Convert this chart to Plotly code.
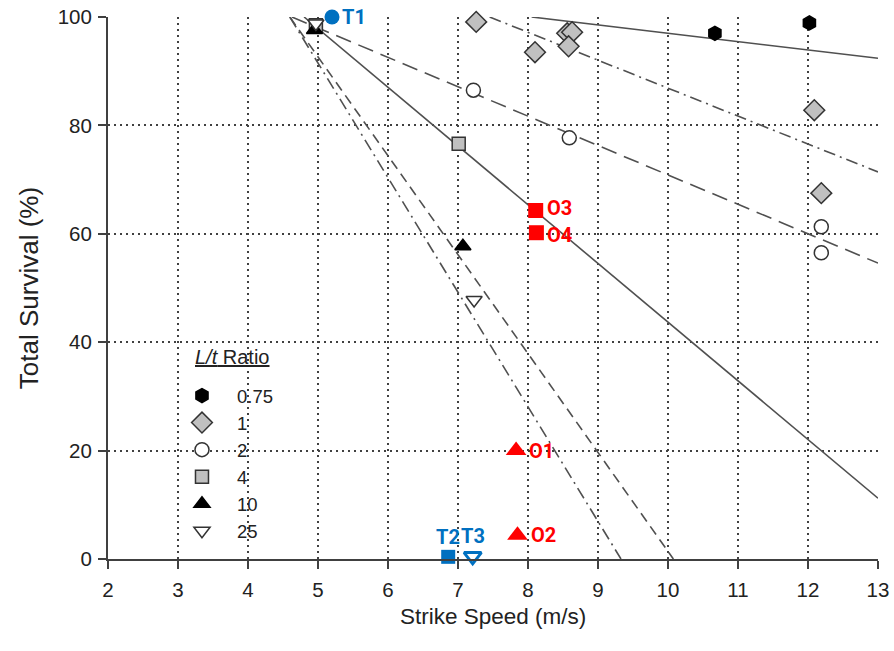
import plotly.graph_objects as go

# Survival vs. strike speed, grouped by L/t ratio
ratio_labels = ["0.75", "1", "2", "4", "10", "25"]

speed_075 = [10.67, 12.02]
surv_075 = [97.0, 98.9]

speed_1 = [7.26, 7.39, 8.10, 8.56, 8.63, 8.58, 12.09, 12.19]
surv_1 = [99.1, 100.3, 93.5, 97.0, 97.2, 94.6, 82.8, 67.5]

speed_2 = [7.22, 8.59, 12.19, 12.19]
surv_2 = [86.5, 77.7, 61.3, 56.5]

speed_4 = [4.97, 7.01]
surv_4 = [98.5, 76.6]

speed_10 = [4.95, 7.07]
surv_10 = [97.6, 57.7]

speed_25 = [4.97, 7.23]
surv_25 = [98.8, 47.8]

# Linear fits: survival = intercept + slope * speed
fit_intercept = [112.4, 138.4, 125.1, 152.0, 183.9, 197.2]
fit_slope = [-1.54, -5.153, -5.424, -10.83, -18.25, -21.14]
fit_dash = ["solid", "12px,5px,2px,5px", "16px,8px", "solid", "10px,6px", "12px,5px,2px,5px"]

# Highlighted test / observation points
t_names = ["T1", "T2", "T3"]
t_speed = [5.20, 6.86, 7.21]
t_surv = [100.0, 0.4, 0.5]

o_names = ["O1", "O2", "O3", "O4"]
o_speed = [7.83, 7.85, 8.11, 8.12]
o_surv = [20.0, 4.4, 64.3, 60.2]

X_MIN, X_MAX = 2, 13
Y_MIN, Y_MAX = 0, 100

LINE_CLR = "#505050"
EDGE = "#333333"
GRAY_FILL = "#c0c0c0"
BLUE = "#0070C0"
RED = "#FF0000"
FONT = "Arial, Liberation Sans, sans-serif"
LABEL_FONT = "Roboto, sans-serif"

fig = go.Figure()

# fitted lines, clipped to the 0-100 % band and the speed range
for a, b, d in zip(fit_intercept, fit_slope, fit_dash):
    xs = (Y_MAX - a) / b
    xe = min(X_MAX, (Y_MIN - a) / b)
    fig.add_trace(go.Scatter(
        x=[xs, xe], y=[a + b * xs, a + b * xe], mode="lines",
        line=dict(color=LINE_CLR, width=1.6, dash=d),
        showlegend=False, hoverinfo="skip"))

series = [
    (speed_075, surv_075, "hexagon", "black", "black", 14),
    (speed_1, surv_1, "diamond", GRAY_FILL, EDGE, 16),
    (speed_2, surv_2, "circle", "white", EDGE, 14),
    (speed_4, surv_4, "square", GRAY_FILL, EDGE, 13),
    (speed_10, surv_10, "triangle-up", "black", "black", 14),
    (speed_25, surv_25, "triangle-down", "white", EDGE, 14),
]
for (xs, ys, sym, fill, edge, size), name in zip(series, ratio_labels):
    fig.add_trace(go.Scatter(
        x=xs, y=ys, mode="markers", name=name, cliponaxis=False,
        marker=dict(symbol=sym, size=size, color=fill,
                    line=dict(color=edge, width=1.5))))

# T points: T1 circle, T2 square, T3 open triangle
t_symbols = ["circle", "square", "triangle-down"]
t_fill = [BLUE, BLUE, "white"]
t_sizes = [15, 14, 15]
t_line = [0, 0, 3]
fig.add_trace(go.Scatter(
    x=t_speed, y=t_surv, mode="markers", cliponaxis=False, showlegend=False,
    marker=dict(symbol=t_symbols, size=t_sizes, color=t_fill, opacity=1,
                line=dict(color=BLUE, width=t_line))))

# O points: triangles O1/O2, squares O3/O4
o_symbols = ["triangle-up", "triangle-up", "square", "square"]
o_sizes = [18, 18, 15, 15]
fig.add_trace(go.Scatter(
    x=o_speed, y=o_surv, mode="markers", cliponaxis=False, showlegend=False,
    marker=dict(symbol=o_symbols, size=o_sizes, color=RED, opacity=1,
                line=dict(width=0))))

label_font = lambda c: dict(family=LABEL_FONT, size=20, color=c, weight="bold")
annotations = []
# T1 to the right, T2/T3 above their markers
t_anchor = [("left", "middle", 8, 0), ("center", "bottom", 0, 6), ("center", "bottom", 0, 6)]
for name, x, y, (xa, ya, dx, dy) in zip(t_names, t_speed, t_surv, t_anchor):
    annotations.append(dict(
        text=name, x=x, y=y, xref="x", yref="y", showarrow=False,
        xanchor=xa, yanchor=ya, xshift=dx, yshift=dy, font=label_font(BLUE)))
# O labels to the right of their markers
o_shift = [(11, 0), (11, 0), (9, 2), (9, -2)]
for name, x, y, (dx, dy) in zip(o_names, o_speed, o_surv, o_shift):
    annotations.append(dict(
        text=name, x=x, y=y, xref="x", yref="y", showarrow=False,
        xanchor="left", yanchor="middle", xshift=dx, yshift=dy,
        font=label_font(RED)))

# legend heading
annotations.append(dict(
    text="<u><i>L/t</i> Ratio</u>", xref="paper", yref="paper",
    x=(193 - 108) / 770, y=(559 - 357) / 542, xanchor="left", yanchor="middle",
    showarrow=False, font=dict(family=FONT, size=20, color="#222222")))

# x-axis title placed just below the tick labels
annotations.append(dict(
    text="Strike Speed (m/s)", xref="paper", yref="paper",
    x=0.5, y=(559 - 616) / 542, xanchor="center", yanchor="middle",
    showarrow=False, borderpad=0,
    font=dict(family=FONT, size=22.5, color="#222222")))

axis_common = dict(
    showline=True, linecolor="#404040", linewidth=2,
    ticks="outside", ticklen=8, tickwidth=1.5, tickcolor="#404040",
    showgrid=True, gridcolor="#404040", gridwidth=1.5, griddash="2px,4px",
    zeroline=False, automargin=False,
    tickfont=dict(family=FONT, size=20.5, color="#222222"),
)

fig.update_layout(
    width=894, height=651,
    margin=dict(l=108, r=16, t=17, b=92),
    paper_bgcolor="white", plot_bgcolor="white",
    font=dict(family=FONT, color="#222222"),
    xaxis=dict(range=[X_MIN, X_MAX], dtick=1, tick0=2, ticklabelstandoff=3,
               **axis_common),
    yaxis=dict(range=[Y_MIN, Y_MAX], dtick=20, ticklabelstandoff=2,
               title=dict(text="Total Survival (%)", font=dict(size=26), standoff=12),
               **axis_common),
    legend=dict(
        x=0.0766, y=(559 - 377) / 542, xanchor="left", yanchor="top",
        bgcolor="rgba(0,0,0,0)", font=dict(size=18.5),
        itemsizing="trace", itemwidth=60, tracegroupgap=0),
    annotations=annotations,
)

fig.write_html("out.html")
